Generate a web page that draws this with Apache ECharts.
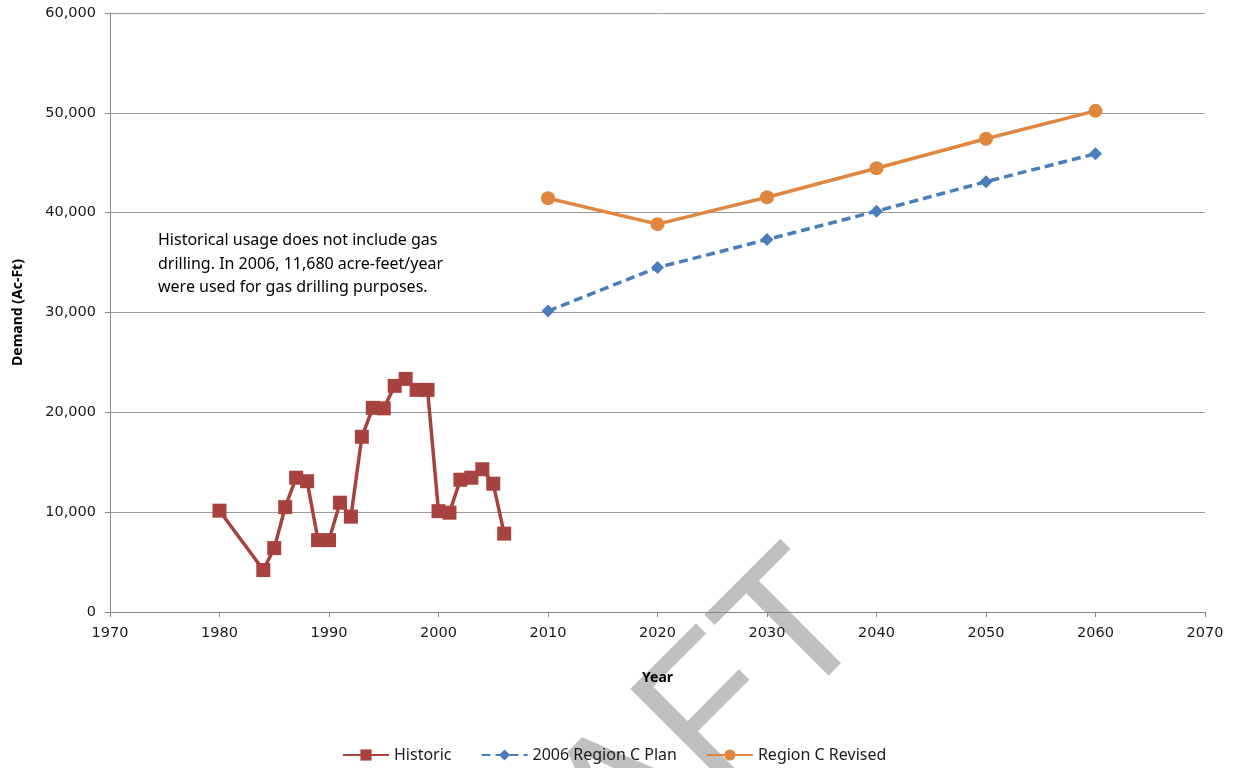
<!DOCTYPE html>
<html>
<head>
<meta charset="utf-8">
<script src="https://cdn.jsdelivr.net/npm/echarts@6/dist/echarts.min.js"></script>
<style>
  html, body { margin: 0; padding: 0; background: #fff; }
  #chart { width: 1235px; height: 768px; }
</style>
</head>
<body>
<div id="chart"></div>
<script>
// Historic demand (years with records)
const histYears  = [1980, 1984, 1985, 1986, 1987, 1988, 1989, 1990, 1991, 1992, 1993, 1994, 1995,
                    1996, 1997, 1998, 1999, 2000, 2001, 2002, 2003, 2004, 2005, 2006];
const histValues = [10150, 4200, 6400, 10500, 13450, 13100, 7200, 7200, 10950, 9550, 17550, 20450, 20400,
                    22650, 23350, 22250, 22250, 10100, 9950, 13250, 13450, 14300, 12850, 7850];

// Projections by decade
const planYears    = [2010, 2020, 2030, 2040, 2050, 2060];
const planValues   = [30150, 34500, 37300, 40150, 43100, 45900];
const revisedYears = [2010, 2020, 2030, 2040, 2050, 2060];
const revisedValues= [41450, 38850, 41550, 44450, 47400, 50200];

const seriesNames = ['Historic', '2006 Region C Plan', 'Region C Revised'];
const noteLines = [
  'Historical usage does not include gas',
  'drilling. In 2006, 11,680 acre-feet/year',
  'were used for gas drilling purposes.'
];

const pairs = (xs, ys) => xs.map((x, i) => [x, ys[i]]);

const labelFont = 'DejaVu Sans';
const textFont = 'Noto Sans';

const chart = echarts.init(document.getElementById('chart'), null, { renderer: 'canvas' });

chart.setOption({
  animation: false,
  backgroundColor: '#ffffff',
  grid: { left: 110, right: 30, top: 13, bottom: 156, containLabel: false, outerBoundsMode: 'none' },
  xAxis: {
    type: 'value', min: 1970, max: 2070, interval: 10,
    name: 'Year', nameLocation: 'middle', nameGap: 59,
    nameTextStyle: { fontFamily: textFont, fontWeight: 'bold', fontSize: 14, color: '#000' },
    axisLine: { show: true, lineStyle: { color: '#868686', width: 1 } },
    axisTick: { show: true, inside: false, length: 5, lineStyle: { color: '#868686' } },
    axisLabel: { fontFamily: labelFont, fontSize: 14.5, color: '#1a1a1a', margin: 14, formatter: v => String(v) },
    splitLine: { show: false }
  },
  yAxis: {
    type: 'value', min: 0, max: 60000, interval: 10000,
    name: 'Demand (Ac-Ft)', nameLocation: 'middle', nameGap: 85, nameRotate: 90,
    nameTextStyle: { fontFamily: textFont, fontWeight: 'bold', fontSize: 14, color: '#000' },
    axisLine: { show: true, lineStyle: { color: '#868686', width: 1 } },
    axisTick: { show: true, inside: false, length: 5, lineStyle: { color: '#868686' } },
    axisLabel: { fontFamily: labelFont, fontSize: 14.5, color: '#1a1a1a', margin: 14,
      formatter: v => v.toLocaleString('en-US') },
    splitLine: { show: true, lineStyle: { color: '#9a9a9a', width: 1 } }
  },
  legend: {
    data: seriesNames,
    left: 337, bottom: 0,
    itemWidth: 46, itemHeight: 14, itemGap: 29,
    textStyle: { fontFamily: textFont, fontSize: 16, color: '#1a1a1a' }
  },
  graphic: [
    {
      type: 'text', z: -10, zlevel: 0, silent: true,
      x: 615, y: 815, rotation: Math.PI / 4,
      style: { text: 'DRAFT', fontFamily: 'Liberation Sans', fontSize: 190,
               fill: '#c0c0c0', align: 'center', verticalAlign: 'middle' }
    },
    {
      type: 'text', left: 158, top: 229, silent: true,
      style: { text: noteLines.join('\n'), fontFamily: textFont, fontSize: 16,
               lineHeight: 23.5, fill: '#000' }
    }
  ],
  series: [
    {
      name: seriesNames[0], type: 'line', data: pairs(histYears, histValues),
      symbol: 'rect', symbolSize: 14,
      lineStyle: { color: '#A8423F', width: 3.5 },
      itemStyle: { color: '#A8423F' }, z: 3
    },
    {
      name: seriesNames[1], type: 'line', data: pairs(planYears, planValues),
      symbol: 'diamond', symbolSize: 13,
      lineStyle: { color: '#4A7EBB', width: 3.5, type: [9, 5] },
      itemStyle: { color: '#4A7EBB' }, z: 3
    },
    {
      name: seriesNames[2], type: 'line', data: pairs(revisedYears, revisedValues),
      symbol: 'circle', symbolSize: 14,
      lineStyle: { color: '#E0873F', width: 3.5 },
      itemStyle: { color: '#E0873F' }, z: 3
    }
  ]
});
</script>
</body>
</html>
